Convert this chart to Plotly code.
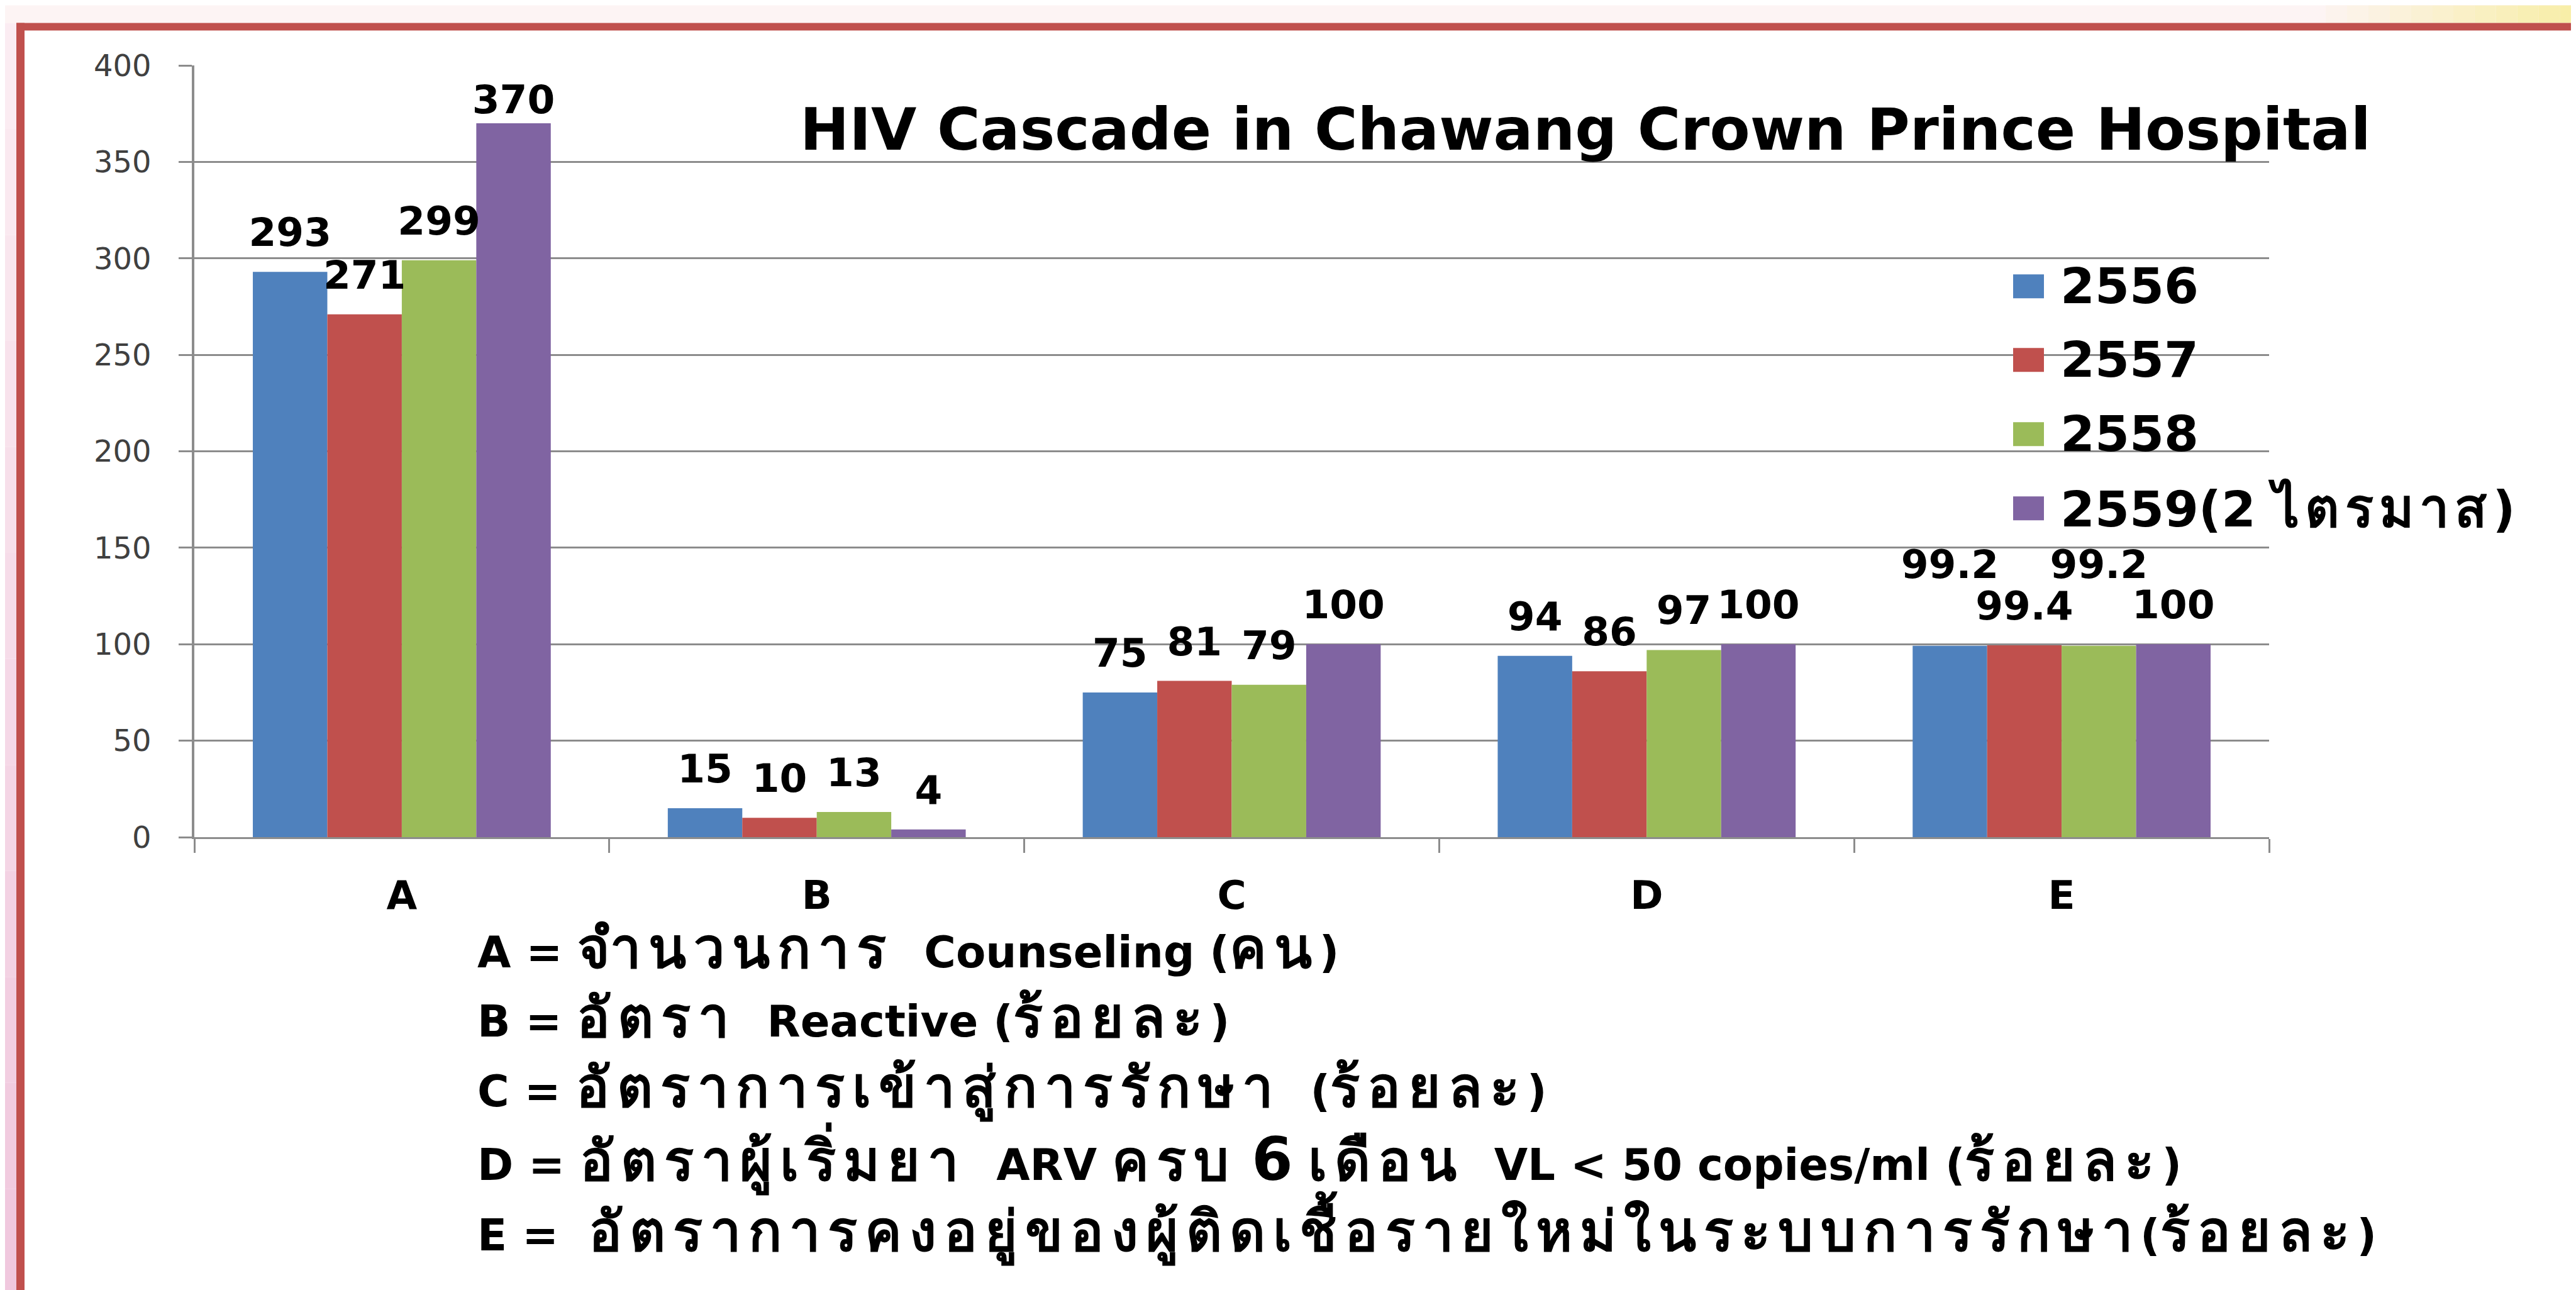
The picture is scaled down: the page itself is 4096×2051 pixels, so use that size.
import re
import plotly.graph_objects as go

# ---------------- data ----------------
categories = ["A", "B", "C", "D", "E"]
series_names = ["2556", "2557", "2558", "2559(2 ไตรมาส)"]
values_2556 = [293, 15, 75, 94, 99.2]
values_2557 = [271, 10, 81, 86, 99.4]
values_2558 = [299, 13, 79, 97, 99.2]
values_2559 = [370, 4, 100, 100, 100]
y_ticks = [0, 50, 100, 150, 200, 250, 300, 350, 400]
title_text = "HIV Cascade in Chawang Crown Prince Hospital"
definitions = [
    "A = จำนวนการ  Counseling (คน)",
    "B = อัตรา  Reactive (ร้อยละ)",
    "C = อัตราการเข้าสู่การรักษา  (ร้อยละ)",
    "D = อัตราผู้เริ่มยา  ARV ครบ {six} เดือน  VL &lt; 50 copies/ml (ร้อยละ)",
    "E =  อัตราการคงอยู่ของผู้ติดเชื้อรายใหม่ในระบบการรักษา(ร้อยละ)",
]

series_values = [values_2556, values_2557, values_2558, values_2559]
colors = ["#4F81BD", "#C0504D", "#9BBB59", "#8064A2"]

# ---------------- layout geometry (output pixels) ----------------
W, H = 4096, 2051
L, R, T, B = 301, 3600, 95.5, 1323
FONT = "DejaVu Sans"
LABEL_SIZE = 63
DEFAULT_GAP = 41
gap_override = {(3, 0): 6, (0, 4): 108, (2, 4): 108}

THAI_RUN = re.compile(r"[\u0E00-\u0E7F]+")


def thai_span(s, size, spacing):
    return THAI_RUN.sub(
        lambda m: f"<span style='font-size:{size}px;letter-spacing:{spacing}px'>{m.group(0)}</span>", s)


def px(x):
    return (x - L) / (R - L)


def py(y):
    return (B - y) / (B - T)


def marker_for_gap(g):
    s = (g - 0.25 * LABEL_SIZE - 1) * 1.6
    return max(s, 0)


fig = go.Figure()

for i, (name, vals) in enumerate(zip(series_names, series_values)):
    fig.add_trace(go.Bar(
        x=categories, y=vals, name=name, offsetgroup=str(i + 1),
        marker=dict(color=colors[i], line=dict(width=0)),
        showlegend=False, hoverinfo="skip",
    ))

for i, (name, vals) in enumerate(zip(series_names, series_values)):
    sizes = [marker_for_gap(gap_override.get((i, j), DEFAULT_GAP)) for j in range(len(vals))]
    fig.add_trace(go.Scatter(
        x=categories, y=vals, mode="markers+text", text=[f"{v:g}" for v in vals],
        textposition="top center", offsetgroup=str(i + 1),
        textfont=dict(family=FONT, size=LABEL_SIZE, color="black", weight="bold"),
        marker=dict(size=sizes, color="rgba(0,0,0,0)", line=dict(width=0)),
        cliponaxis=False, showlegend=False, hoverinfo="skip",
    ))

shapes = []
# top band & yellow highlight
shapes.append(dict(type="rect", xref="paper", yref="paper", x0=px(0), x1=px(W), y0=py(0), y1=py(28),
                   fillcolor="#FDF4F4", line=dict(width=0), layer="below"))
n = 12
for k in range(n):
    x0 = 3690 + k * (W - 3690) / n
    x1 = 3690 + (k + 1) * (W - 3690) / n
    t = (k + 1) / n
    r_ = int(253 + (248 - 253) * t)
    g_ = int(244 + (238 - 244) * t)
    b_ = int(244 + (168 - 244) * t)
    shapes.append(dict(type="rect", xref="paper", yref="paper", x0=px(x0), x1=px(x1), y0=py(0), y1=py(28),
                       fillcolor=f"rgb({r_},{g_},{b_})", line=dict(width=0), layer="below"))
# left pink strip
for k in range(n):
    y0 = 28 + k * (H - 28) / n
    y1 = 28 + (k + 1) * (H - 28) / n
    t = (k + 1) / n
    r_ = int(252 + (240 - 252) * t)
    g_ = int(240 + (200 - 240) * t)
    b_ = int(244 + (222 - 244) * t)
    shapes.append(dict(type="rect", xref="paper", yref="paper", x0=px(0), x1=px(18), y0=py(y0), y1=py(y1),
                       fillcolor=f"rgb({r_},{g_},{b_})", line=dict(width=0), layer="below"))
# red frame
shapes.append(dict(type="rect", xref="paper", yref="paper", x0=px(18), x1=px(W), y0=py(28), y1=py(40),
                   fillcolor="#C0504D", line=dict(width=0), layer="below"))
shapes.append(dict(type="rect", xref="paper", yref="paper", x0=px(18), x1=px(31), y0=py(28), y1=py(H),
                   fillcolor="#C0504D", line=dict(width=0), layer="below"))

annotations = []
# legend (manual, large symbols)
legend_y = [447, 564, 682, 800]
for i, name in enumerate(series_names):
    shapes.append(dict(type="rect", xref="paper", yref="paper", x0=px(3193), x1=px(3242),
                       y0=py(legend_y[i] - 19), y1=py(legend_y[i] + 19),
                       fillcolor=colors[i], line=dict(width=0)))
    annotations.append(dict(xref="paper", yref="paper", x=px(3266), y=py(legend_y[i]),
                            xanchor="left", yanchor="middle", showarrow=False,
                            text="<b>" + thai_span(name, 84, 9) + "</b>",
                            font=dict(family=FONT, size=79, color="black")))

annotations.append(dict(xref="paper", yref="paper", x=px(1262), y=py(197), xanchor="left", yanchor="middle",
                        showarrow=False, text=f"<b>{title_text}</b>",
                        font=dict(family=FONT, size=93.5, color="black")))

def_y = [1500, 1610, 1723, 1835, 1945]
for i, line in enumerate(definitions):
    txt = thai_span(line, 88, 12).replace("{six}", "<span style='font-size:94px'>6</span>")
    annotations.append(dict(xref="paper", yref="paper", x=px(749), y=py(def_y[i]), xanchor="left",
                            yanchor="middle", showarrow=False, text=f"<b>{txt}</b>",
                            font=dict(family=FONT, size=69, color="black")))

fig.update_layout(
    width=W, height=H,
    margin=dict(l=L, r=W - R, t=T, b=H - B, pad=0),
    paper_bgcolor="white", plot_bgcolor="rgba(0,0,0,0)",
    barmode="group", bargap=0.282, bargroupgap=0,
    scattermode="group", scattergap=0.282,
    showlegend=False,
    shapes=shapes, annotations=annotations,
    xaxis=dict(type="category", range=[-0.5, 4.5], showline=True, linecolor="#8C8C8C", linewidth=3,
               ticks="outside", tickson="boundaries", ticklen=22, tickwidth=2.5, tickcolor="#8C8C8C",
               tickfont=dict(family=FONT, size=63, color="black", weight="bold"),
               ticklabelstandoff=35, showgrid=False, zeroline=False, fixedrange=True),
    yaxis=dict(range=[0, 400], tickvals=y_ticks, ticktext=[str(v) for v in y_ticks],
               showline=True, linecolor="#8C8C8C", linewidth=3.5,
               ticks="outside", ticklen=21, tickwidth=2.5, tickcolor="#8C8C8C",
               showgrid=True, gridcolor="#8C8C8C", gridwidth=2.5, zeroline=False,
               tickfont=dict(family=FONT, size=48, color="#404040"), ticklabelstandoff=34,
               fixedrange=True),
)

fig.write_html("out.html")
